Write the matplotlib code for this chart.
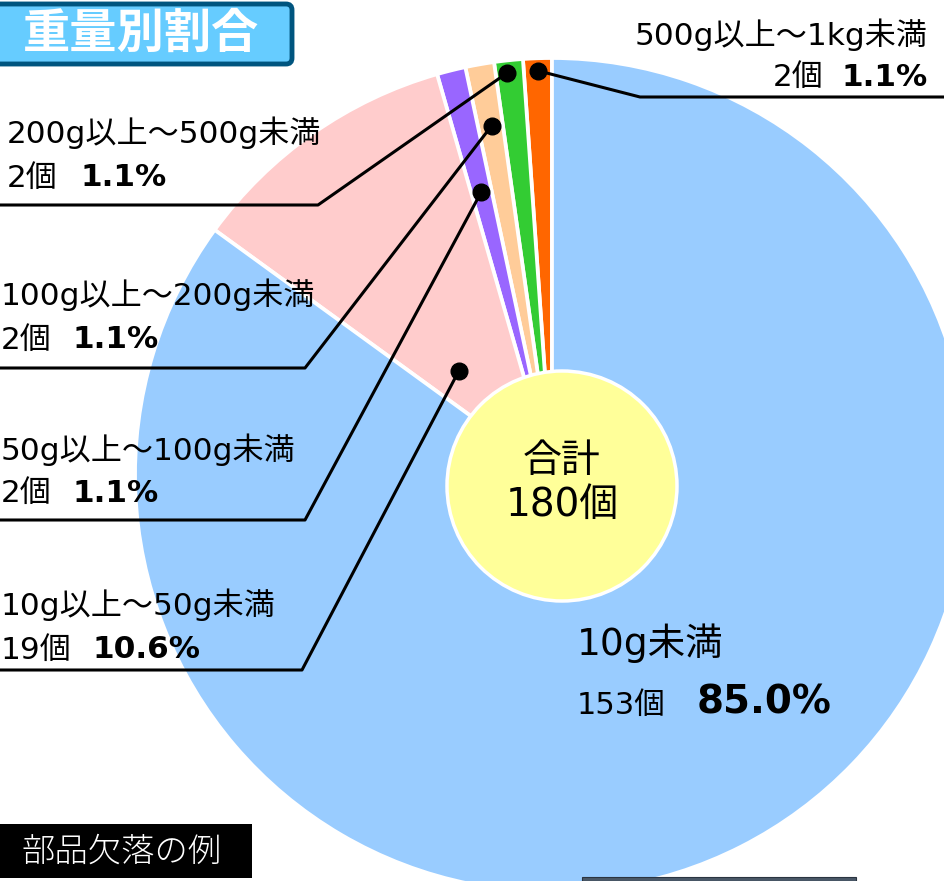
import matplotlib
matplotlib.use("Agg")
import matplotlib.pyplot as plt
from matplotlib.patches import FancyBboxPatch, Rectangle, Circle
import numpy as np

plt.rcParams['font.family'] = ['DejaVu Sans', 'Noto Sans CJK JP']

# ---- data ----
categories = ["500g以上～1kg未満", "200g以上～500g未満", "100g以上～200g未満",
              "50g以上～100g未満", "10g以上～50g未満", "10g未満"]
counts = [2, 2, 2, 2, 19, 153]
count_labels = ["2個", "2個", "2個", "2個", "19個", "153個"]
pct_labels = ["1.1%", "1.1%", "1.1%", "1.1%", "10.6%", "85.0%"]
colors = ["#FF6600", "#33CC33", "#FFCC99", "#9966FF", "#FFCCCC", "#99CCFF"]
total_label = ["合計", "180個"]
title = "重量別割合"
note = "部品欠落の例"

W, H = 944, 881
def Y(py):
    return H - py

fig = plt.figure(figsize=(W / 100, H / 100), dpi=100)
ax = fig.add_axes([0, 0, 1, 1])

cx, cy, R = 552, Y(475), 417
wedges, _ = ax.pie(counts, colors=colors, startangle=90, counterclock=True,
                   center=(cx, cy), radius=R,
                   wedgeprops=dict(edgecolor="white", linewidth=2.7))
ax.set_xlim(0, W)
ax.set_ylim(0, H)
ax.set_aspect("equal")
ax.axis("off")

# centre circle
ax.add_patch(Circle((562, Y(486)), 115, facecolor="#FFFF99", edgecolor="white",
                    linewidth=2.5, zorder=3))
ax.text(562, Y(461), total_label[0], ha="center", va="center", fontsize=28, zorder=4)
ax.text(562, Y(505), total_label[1], ha="center", va="center", fontsize=28, zorder=4)

# leader lines: (radius fraction, angle fraction within wedge, elbow px, end x px)
leaders = [
    (0.97, 0.5, (640, 97), 944),
    (0.97, 0.6, (318, 205), 0),
    (0.85, 0.45, (305, 368), 0),
    (0.70, 0.5, (305, 520), 0),
    (0.335, 0.68, (302, 670), 0),
]
for w, (rf, af, (ex, ey), endx) in zip(wedges, leaders):
    a = np.deg2rad(w.theta1 + af * (w.theta2 - w.theta1))
    px, py = cx + rf * R * np.cos(a), cy + rf * R * np.sin(a)
    ax.plot([px, ex, endx], [py, Y(ey), Y(ey)], color="black", lw=2.2,
            zorder=5, solid_capstyle="butt")
    ax.plot([px], [py], "o", color="black", markersize=12, zorder=6)

# side labels
fs = 22.4
# 500g label (right aligned)
ax.text(928, Y(35), categories[0], ha="right", va="center", fontsize=fs)
ax.text(928, Y(77), pct_labels[0], ha="right", va="center", fontsize=fs, fontweight="bold")
ax.text(773, Y(77), count_labels[0], ha="left", va="center", fontsize=fs)

left_pos = [  # x, line1 y, line2 y, pct x
    (7, 133, 178, 80),
    (1, 295, 340, 73),
    (1, 450, 493, 73),
    (1, 605, 650, 93),
]
for i, (x, y1, y2, px) in enumerate(left_pos, start=1):
    ax.text(x, Y(y1), categories[i], ha="left", va="center", fontsize=fs)
    ax.text(x, Y(y2), count_labels[i], ha="left", va="center", fontsize=fs)
    ax.text(px, Y(y2), pct_labels[i], ha="left", va="center", fontsize=fs, fontweight="bold")

# main slice label
ax.text(577, Y(643), categories[5], ha="left", va="center", fontsize=27, zorder=4)
ax.text(577, Y(705), count_labels[5], ha="left", va="center", fontsize=22, zorder=4)
ax.text(697, Y(703), pct_labels[5], ha="left", va="center", fontsize=28,
        fontweight="bold", zorder=4)

# title box
ax.add_patch(FancyBboxPatch((-20, Y(64)), 312, 60,
                            boxstyle="round,pad=0,rounding_size=6",
                            facecolor="#66CCFF", edgecolor="#00557F", linewidth=3.5,
                            zorder=7))
ax.text(141, Y(34), title, ha="center", va="center", fontsize=34, fontweight="bold",
        color="white", zorder=8, family="Noto Sans CJK JP")

# note box
ax.add_patch(Rectangle((0, Y(878)), 252, 54, facecolor="black", edgecolor="none", zorder=7))
ax.text(122, Y(852), note, ha="center", va="center", fontsize=24, color="white", zorder=8,
        family="Noto Sans CJK JP", fontweight="light")

# photo edge at bottom
ax.add_patch(Rectangle((582, Y(881)), 274, 4, facecolor="#4A5868", edgecolor="#2A3440",
                       linewidth=0.8, zorder=7))

fig.savefig("out.png", dpi=100)
